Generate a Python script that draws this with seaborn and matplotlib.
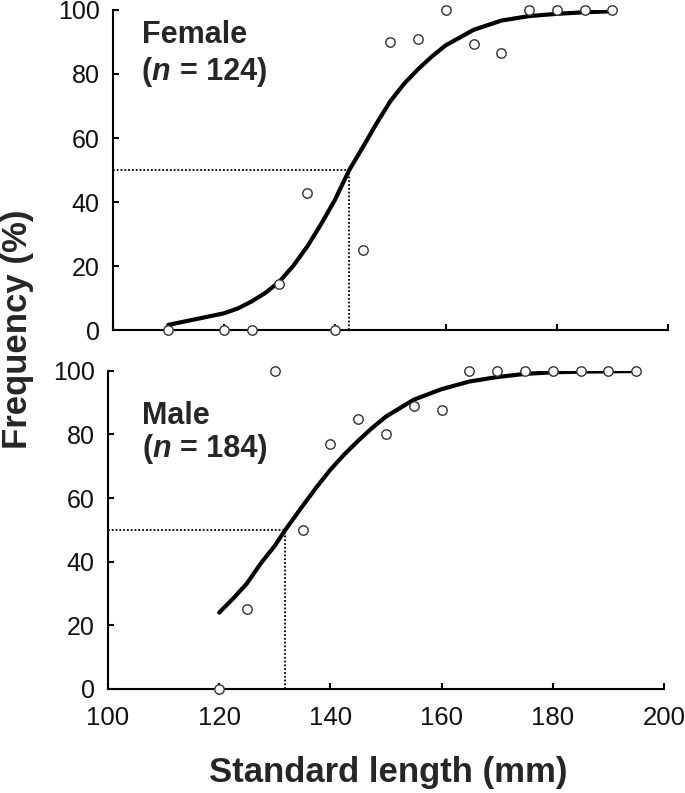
import pandas as pd
import matplotlib
matplotlib.use("Agg")
import matplotlib.pyplot as plt
import seaborn as sns

# observed frequencies (%)
female_len = [110, 120, 125, 130, 135, 140, 145, 150, 155, 160, 165, 170, 175, 180, 185, 190]
female_pct = [0, 0, 0, 14.3, 42.9, 0, 25, 89.9, 90.8, 100, 89.4, 86.7, 100, 100, 100, 100]
male_len = [120, 125, 130, 135, 140, 145, 150, 155, 160, 165, 170, 175, 180, 185, 190, 195]
male_pct = [0, 25.2, 100, 50, 77, 84.8, 80.1, 89, 87.7, 100, 100, 100, 100, 100, 100, 100]

# fitted curves
female_fit_len = [110, 115, 120, 122.5, 125, 127.5, 130, 132.5, 135, 137.5, 140, 142.6, 145,
                  147.5, 150, 152.5, 155, 157.5, 160, 165, 170, 175, 180, 185, 190]
female_fit_pct = [1.6, 3.4, 5.2, 6.7, 8.9, 11.6, 15.1, 20, 26, 33, 40.6, 50, 57, 64.5, 71.5,
                  77, 81.5, 85.5, 89, 93.8, 96.7, 98.1, 98.8, 99.3, 99.6]
male_fit_len = [120, 122.5, 125, 127.5, 130, 131.9, 135, 137.5, 140, 142.5, 145, 147.5, 150,
                155, 160, 165, 170, 175, 180, 185, 190, 195]
male_fit_pct = [24, 28.4, 33.2, 39.5, 45, 50, 57.5, 63.4, 68.9, 73.7, 78, 82, 85.6, 90.9, 94.2,
                96.6, 98, 99, 99.5, 99.7, 99.8, 99.9]

female_l50 = 142.6
male_l50 = 131.9

panels = [
    ("Female", 124, female_len, female_pct, female_fit_len, female_fit_pct, female_l50),
    ("Male", 184, male_len, male_pct, male_fit_len, male_fit_pct, male_l50),
]

sns.set_theme(style="ticks")
plt.rcParams['font.family'] = ['Liberation Sans', 'DejaVu Sans']

fig = plt.figure(figsize=(6.85, 7.93), dpi=100)
rects = [
    [112.7 / 685, 1 - 330 / 793, 555.3 / 685, 320 / 793],
    [108 / 685, 1 - 689 / 793, 556 / 685, 318.3 / 793],
]
text_pos = [(105.2, 89.6, 78), (106.2, 83.3, 73)]
fs = 22

for i, (name, n, xs, ys, fx, fy, l50) in enumerate(panels):
    ax = fig.add_axes(rects[i])
    pts = pd.DataFrame({"len": xs, "pct": ys})
    fit = pd.DataFrame({"len": fx, "pct": fy})

    ax.plot([100, l50], [50, 50], color="black", lw=1.3, ls=(0, (1, 1.1)))
    ax.plot([l50, l50], [0, 50], color="black", lw=1.3, ls=(0, (1, 1.1)))
    sns.lineplot(data=fit, x="len", y="pct", ax=ax, color="black", lw=3.0,
                 sort=False, legend=False)
    sns.scatterplot(data=pts, x="len", y="pct", ax=ax, s=46, facecolor="white",
                    edgecolor="#333333", linewidth=1.0, clip_on=False, zorder=5,
                    legend=False)

    ax.set_xlim(100, 200)
    ax.set_ylim(0, 100)
    ax.set_xticks([100, 120, 140, 160, 180, 200])
    ax.set_yticks([0, 20, 40, 60, 80, 100])
    ax.set_xlabel("")
    ax.set_ylabel("")
    sns.despine(ax=ax)
    for s in ["left", "bottom"]:
        ax.spines[s].set_linewidth(1.5)
        ax.spines[s].set_color("black")
    ax.tick_params(axis="both", direction="in", length=4.5, width=1.5, color="black")
    ax.tick_params(axis="y", labelsize=18, pad=9.5, labelcolor="#111111")
    ax.tick_params(axis="x", labelsize=18.5, pad=12, labelcolor="#111111")
    if i == 0:
        ax.set_xticklabels([])

    tx, ty1, ty2 = text_pos[i]
    ax.text(tx, ty1, name, fontsize=fs, fontweight="bold", ha="left", va="baseline")
    ax.text(tx, ty2, "(", fontsize=fs, fontweight="bold", ha="left", va="baseline")
    ax.annotate("n", xy=(tx, ty2), xytext=(0.333 * fs, 0), textcoords="offset points",
                fontsize=fs, fontweight="bold", fontstyle="italic", ha="left", va="baseline")
    ax.annotate("= %d)" % n, xy=(tx, ty2), xytext=((0.333 + 0.611 + 0.3) * fs, 0),
                textcoords="offset points", fontsize=fs, fontweight="bold",
                ha="left", va="baseline")

fig.text(17.5 / 685, 1 - 329 / 793, "Frequency (%)", rotation=90, fontsize=25,
         fontweight="bold", ha="center", va="center")
fig.text(388 / 685, 1 - 782 / 793, "Standard length (mm)", fontsize=25,
         fontweight="bold", ha="center", va="baseline")

fig.savefig("out.png", dpi=100)
